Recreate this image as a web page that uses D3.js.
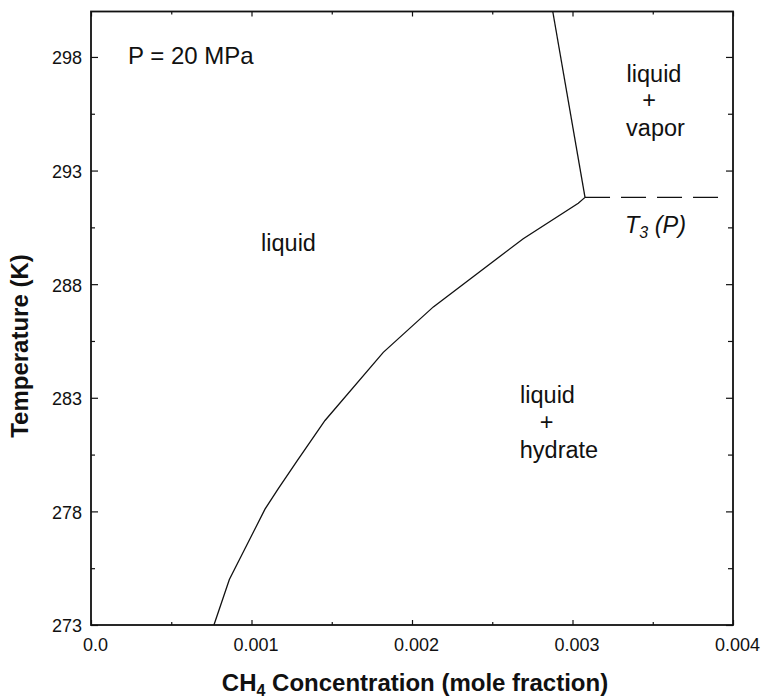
<!DOCTYPE html>
<html><head><meta charset="utf-8">
<script src="https://cdn.jsdelivr.net/npm/d3@7"></script>
<style>
body{margin:0;background:#fff}
text{font-family:Arial,"Liberation Sans",Helvetica,sans-serif;fill:#111}
</style>
</head><body>
<svg id="c" width="761" height="699"></svg>
<script>
// ---- data ----
const hydrateX = [0.000766, 0.000862, 0.001084, 0.001167, 0.001282, 0.001458, 0.001821, 0.002133, 0.002693, 0.003036, 0.003078];
const hydrateT = [273.0, 275.0, 278.1, 279.0, 280.2, 282.0, 285.0, 287.0, 290.0, 291.56, 291.82];
const vaporX = [0.003078, 0.002877];
const vaporT = [291.82, 300.0];
const t3X = [0.003078, 0.00392];
const t3T = [291.82, 291.82];
const xTicks = [0, 0.001, 0.002, 0.003, 0.004];
const xTickLabels = ["0.0", "0.001", "0.002", "0.003", "0.004"];
const xMinor = [0.0005, 0.0015, 0.0025, 0.0035];
const yTicks = [273, 278, 283, 288, 293, 298];
const yTickLabels = ["273", "278", "283", "288", "293", "298"];
const yMinor = [275.5, 280.5, 285.5, 290.5, 295.5];

// ---- layout ----
const L = 91, R = 733, T = 11.5, B = 625;
const svg = d3.select("#c");
const x = d3.scaleLinear().domain([0, 0.004]).range([L, R]);
const y = d3.scaleLinear().domain([273, 300]).range([B, T]);

function styleAxis(g){
  g.select(".domain").remove();
  g.selectAll(".tick line").attr("stroke", "#111").attr("stroke-width", 1.2);
  g.selectAll(".tick text").attr("font-size", 18).attr("fill", "#111")
    .attr("font-family", "Arial, 'Liberation Sans', sans-serif");
}

// major axes
svg.append("g").attr("transform", `translate(0,${B})`)
  .call(d3.axisBottom(x).tickValues(xTicks).tickSize(-5).tickPadding(13)
    .tickFormat((d, i) => xTickLabels[i]))
  .call(styleAxis)
  .call(g => g.selectAll(".tick text").attr("dx", 4));
svg.append("g").attr("transform", `translate(0,${B})`)
  .call(d3.axisBottom(x).tickValues(xMinor).tickSize(-3).tickFormat(""))
  .call(styleAxis);
svg.append("g").attr("transform", `translate(0,${T})`)
  .call(d3.axisTop(x).tickValues(xTicks).tickSize(-5).tickFormat(""))
  .call(styleAxis);
svg.append("g").attr("transform", `translate(0,${T})`)
  .call(d3.axisTop(x).tickValues(xMinor).tickSize(-3).tickFormat(""))
  .call(styleAxis);

svg.append("g").attr("transform", `translate(${L},0)`)
  .call(d3.axisLeft(y).tickValues(yTicks).tickSize(-7).tickPadding(9)
    .tickFormat((d, i) => yTickLabels[i]))
  .call(styleAxis)
  .call(g => g.selectAll(".tick text").attr("dy", "0.38em"));
svg.append("g").attr("transform", `translate(${L},0)`)
  .call(d3.axisLeft(y).tickValues(yMinor).tickSize(-4).tickFormat(""))
  .call(styleAxis);
svg.append("g").attr("transform", `translate(${R},0)`)
  .call(d3.axisRight(y).tickValues(yTicks).tickSize(-7).tickFormat(""))
  .call(styleAxis);
svg.append("g").attr("transform", `translate(${R},0)`)
  .call(d3.axisRight(y).tickValues(yMinor).tickSize(-5).tickFormat(""))
  .call(styleAxis);

// frame
svg.append("rect").attr("x", L).attr("y", T).attr("width", R - L).attr("height", B - T)
  .attr("fill", "none").attr("stroke", "#111").attr("stroke-width", 1.8);

// curves
const line = d3.line().x(d => x(d[0])).y(d => y(d[1]));
svg.append("path").datum(hydrateX.map((v, i) => [v, hydrateT[i]]))
  .attr("d", line).attr("fill", "none").attr("stroke", "#111").attr("stroke-width", 1.3);
svg.append("path").datum(vaporX.map((v, i) => [v, vaporT[i]]))
  .attr("d", line).attr("fill", "none").attr("stroke", "#111").attr("stroke-width", 1.3);
svg.append("path").datum(t3X.map((v, i) => [v, t3T[i]]))
  .attr("d", line).attr("fill", "none").attr("stroke", "#111").attr("stroke-width", 1.3)
  .attr("stroke-dasharray", "25,11");

// labels
const fs = 23.5;
svg.append("text").attr("x", 128).attr("y", 64).attr("font-size", 24).text("P = 20 MPa");
svg.append("text").attr("x", 288.5).attr("y", 251).attr("text-anchor", "middle").attr("font-size", fs).text("liquid");

svg.append("text").attr("x", 654).attr("y", 82).attr("text-anchor", "middle").attr("font-size", fs).text("liquid");
svg.append("text").attr("x", 649).attr("y", 108).attr("text-anchor", "middle").attr("font-size", fs).text("+");
svg.append("text").attr("x", 655.5).attr("y", 136).attr("text-anchor", "middle").attr("font-size", fs).text("vapor");

svg.append("text").attr("x", 547.5).attr("y", 403).attr("text-anchor", "middle").attr("font-size", fs).text("liquid");
svg.append("text").attr("x", 546.5).attr("y", 430).attr("text-anchor", "middle").attr("font-size", fs).text("+");
svg.append("text").attr("x", 559).attr("y", 458).attr("text-anchor", "middle").attr("font-size", fs).text("hydrate");

const t3 = svg.append("text").attr("x", 625).attr("y", 233).attr("font-size", fs).attr("font-style", "italic");
t3.append("tspan").text("T");
t3.append("tspan").attr("font-size", 16).attr("dy", 5).text("3");
t3.append("tspan").attr("dy", -5).text(" (P)");

// axis titles
const xt = svg.append("text").attr("x", (L + R) / 2 + 3).attr("y", 691).attr("text-anchor", "middle")
  .attr("font-size", 24).attr("font-weight", "bold");
xt.append("tspan").text("CH");
xt.append("tspan").attr("font-size", 16).attr("dy", 5).text("4");
xt.append("tspan").attr("dy", -5).text(" Concentration (mole fraction)");

svg.append("text").attr("transform", "translate(28,346) rotate(-90)").attr("text-anchor", "middle")
  .attr("font-size", 24).attr("font-weight", "bold").text("Temperature (K)");
</script>
</body></html>
